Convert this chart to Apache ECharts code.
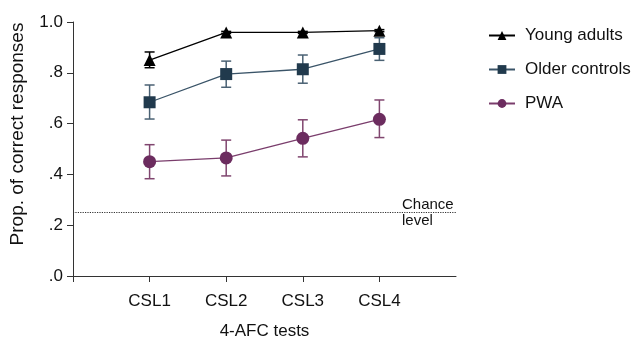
<!DOCTYPE html>
<html style="height: 100%">
<head>
<meta charset="utf-8">
<script src="https://cdn.jsdelivr.net/npm/echarts@6/dist/echarts.min.js"></script>
</head>
<body style="height: 100%; margin: 0; background: #fff">
<div id="container" style="width: 637px; height: 338px"></div>
<script type="text/javascript">
// data
var tests = ['CSL1', 'CSL2', 'CSL3', 'CSL4'];
var yTicks = [0, 0.2, 0.4, 0.6, 0.8, 1.0];
var chance = 0.25;

var youngMean = [0.850, 0.959, 0.959, 0.966];
var youngLow  = [0.820, 0.955, 0.955, 0.962];
var youngHigh = [0.882, 0.963, 0.963, 0.970];

var olderMean = [0.684, 0.795, 0.814, 0.894];
var olderLow  = [0.618, 0.743, 0.759, 0.849];
var olderHigh = [0.752, 0.846, 0.870, 0.938];

var pwaMean = [0.450, 0.465, 0.542, 0.617];
var pwaLow  = [0.383, 0.394, 0.469, 0.545];
var pwaHigh = [0.517, 0.535, 0.615, 0.693];

var font = 'Liberation Sans, Arial, Helvetica, sans-serif';

var chart = echarts.init(document.getElementById('container'));

function points(arr) {
    return arr.map(function (v, i) { return [i + 1, v]; });
}
function bars(lo, hi) {
    return lo.map(function (v, i) { return [i + 1, v, hi[i]]; });
}
function errorSeries(lo, hi, color) {
    return {
        type: 'custom',
        silent: true,
        z: 1,
        data: bars(lo, hi),
        renderItem: function (params, api) {
            var top = api.coord([api.value(0), api.value(2)]);
            var bot = api.coord([api.value(0), api.value(1)]);
            var w = 5;
            var st = { stroke: color, lineWidth: 1.5 };
            return {
                type: 'group',
                children: [
                    { type: 'line', shape: { x1: top[0], y1: top[1], x2: bot[0], y2: bot[1] }, style: st },
                    { type: 'line', shape: { x1: top[0] - w, y1: top[1], x2: top[0] + w, y2: top[1] }, style: st },
                    { type: 'line', shape: { x1: bot[0] - w, y1: bot[1], x2: bot[0] + w, y2: bot[1] }, style: st }
                ]
            };
        }
    };
}

var option = {
    animation: false,
    textStyle: { fontFamily: font },
    grid: { left: 73, right: 181, top: 22, bottom: 62, outerBoundsMode: 'none', containLabel: false },
    legend: {
        orient: 'vertical',
        left: 483,
        top: 22,
        itemWidth: 26,
        itemHeight: 11,
        itemGap: 17,
        textStyle: { fontSize: 17, color: '#111', fontFamily: font, padding: [0, 0, 0, 5] },
        data: ['Young adults', 'Older controls', 'PWA']
    },
    xAxis: {
        type: 'value',
        min: 0,
        max: tests.length + 1,
        interval: 1,
        name: '4-AFC tests',
        nameLocation: 'middle',
        nameGap: 47,
        nameTextStyle: { fontSize: 17, color: '#111', fontFamily: font },
        axisLine: { lineStyle: { color: '#333', width: 1 } },
        axisTick: { show: true, length: 6, customValues: [0, 1, 2, 3, 4], lineStyle: { color: '#333' } },
        axisLabel: {
            customValues: [1, 2, 3, 4],
            fontSize: 17, color: '#111', margin: 17,
            formatter: function (v) { return tests[v - 1] || ''; }
        },
        splitLine: { show: false }
    },
    yAxis: {
        type: 'value',
        min: 0,
        max: 1,
        interval: 0.2,
        name: 'Prop. of correct responses',
        nameLocation: 'middle',
        nameGap: 46,
        nameTextStyle: { fontSize: 19, color: '#111', fontFamily: font, padding: [0, 0, 0, 30] },
        axisLine: { show: true, lineStyle: { color: '#333', width: 1 } },
        axisTick: { show: true, length: 6, lineStyle: { color: '#333' } },
        axisLabel: {
            fontSize: 17, color: '#111', margin: 10,
            formatter: function (v) { return v >= 1 ? '1.0' : v.toFixed(1).replace(/^0/, ''); }
        },
        splitLine: { show: false }
    },
    series: [
        errorSeries(youngLow, youngHigh, '#000'),
        errorSeries(olderLow, olderHigh, '#4a6173'),
        errorSeries(pwaLow, pwaHigh, '#80466f'),
        {
            name: 'Young adults',
            type: 'line',
            z: 3,
            data: points(youngMean),
            symbol: 'triangle',
            symbolSize: 12,
            lineStyle: { color: '#000', width: 1.3 },
            itemStyle: { color: '#000' },
            markLine: {
                silent: true,
                symbol: 'none',
                lineStyle: { type: 'dotted', color: '#333', width: 1.2 },
                label: {
                    position: 'insideEnd',
                    distance: 0,
                    formatter: '{a|Chance}\n{a|level}',
                    rich: {
                        a: { width: 54, align: 'left', fontSize: 15, lineHeight: 16, color: '#111', fontFamily: font }
                    }
                },
                data: [{ yAxis: chance }]
            }
        },
        {
            name: 'Older controls',
            type: 'line',
            z: 3,
            data: points(olderMean),
            symbol: 'rect',
            symbolSize: 12,
            lineStyle: { color: '#3a5468', width: 1.3 },
            itemStyle: { color: '#213a4d' }
        },
        {
            name: 'PWA',
            type: 'line',
            z: 3,
            data: points(pwaMean),
            symbol: 'circle',
            symbolSize: 13,
            lineStyle: { color: '#7a3d6c', width: 1.3 },
            itemStyle: { color: '#6c2c5f' }
        }
    ]
};

chart.setOption(option);
</script>
</body>
</html>
